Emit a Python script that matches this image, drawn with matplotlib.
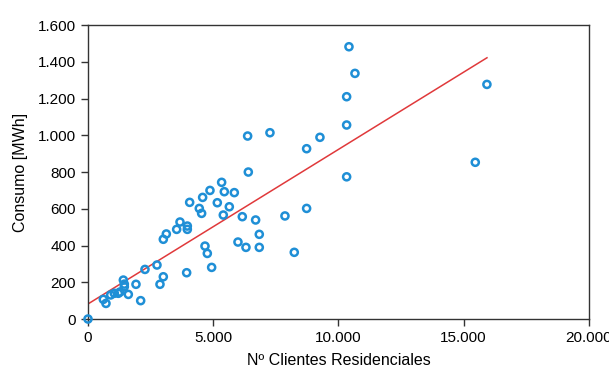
import matplotlib
matplotlib.use("Agg")
from matplotlib import pyplot as plt
from matplotlib.ticker import FuncFormatter

plt.rcParams['font.family'] = ['Liberation Sans', 'DejaVu Sans']

clientes = [0, 612, 718, 905, 1051, 1211, 1277, 1411, 1450, 1450, 1610, 1916, 2103,
            2275, 2754, 2874, 3007, 3007, 3127, 3540, 3673, 3939, 3966, 3966, 4059,
            4444, 4537, 4577, 4671, 4764, 4870, 4937, 5163, 5336, 5402, 5442, 5642,
            5842, 5988, 6161, 6307, 6374, 6401, 6693, 6839, 6839, 7265, 7864, 8236,
            8729, 8729, 9261, 10327, 10327, 10327, 10420, 10659, 15463, 15928]
consumo = [0, 107, 85, 131, 140, 140, 147, 212, 190, 176, 134, 189, 100,
           270, 294, 189, 230, 434, 463, 488, 528, 252, 488, 506, 635,
           602, 575, 662, 397, 357, 700, 281, 633, 744, 566, 693, 611,
           688, 419, 557, 390, 996, 800, 539, 461, 390, 1014, 561, 363,
           927, 602, 989, 774, 1056, 1210, 1482, 1337, 853, 1277]

# regression line end points
reg_x = [0, 15930]
reg_y = [82, 1422]

xticks = [0, 5000, 10000, 15000, 20000]
yticks = [0, 200, 400, 600, 800, 1000, 1200, 1400, 1600]


def miles(v, pos):
    return f"{int(v):,}".replace(",", ".")


fig = plt.figure(figsize=(6.09, 3.74), dpi=100)
ax = fig.add_axes([0.1445, 0.147, 0.8225, 0.786])
ax.plot(reg_x, reg_y, color='#e0393b', linewidth=1.1, zorder=2)
ax.scatter(clientes, consumo, s=26, facecolors='none', edgecolors='#1f8fd6',
           linewidths=1.8, zorder=3, clip_on=False)
ax.set_xlim(0, 20000)
ax.set_ylim(0, 1600)
ax.set_xticks(xticks)
ax.set_yticks(yticks)
ax.xaxis.set_major_formatter(FuncFormatter(miles))
ax.yaxis.set_major_formatter(FuncFormatter(miles))
ax.tick_params(direction='out', length=5, width=1, colors='#333333',
               labelsize=11, labelcolor='black')
for s in ax.spines.values():
    s.set_color('#333333')
    s.set_linewidth(1)
ax.set_xlabel('Nº Clientes Residenciales', fontsize=11.5, labelpad=6)
ax.set_ylabel('Consumo [MWh]', fontsize=11.5, labelpad=7)
fig.savefig('out.png', dpi=100)
